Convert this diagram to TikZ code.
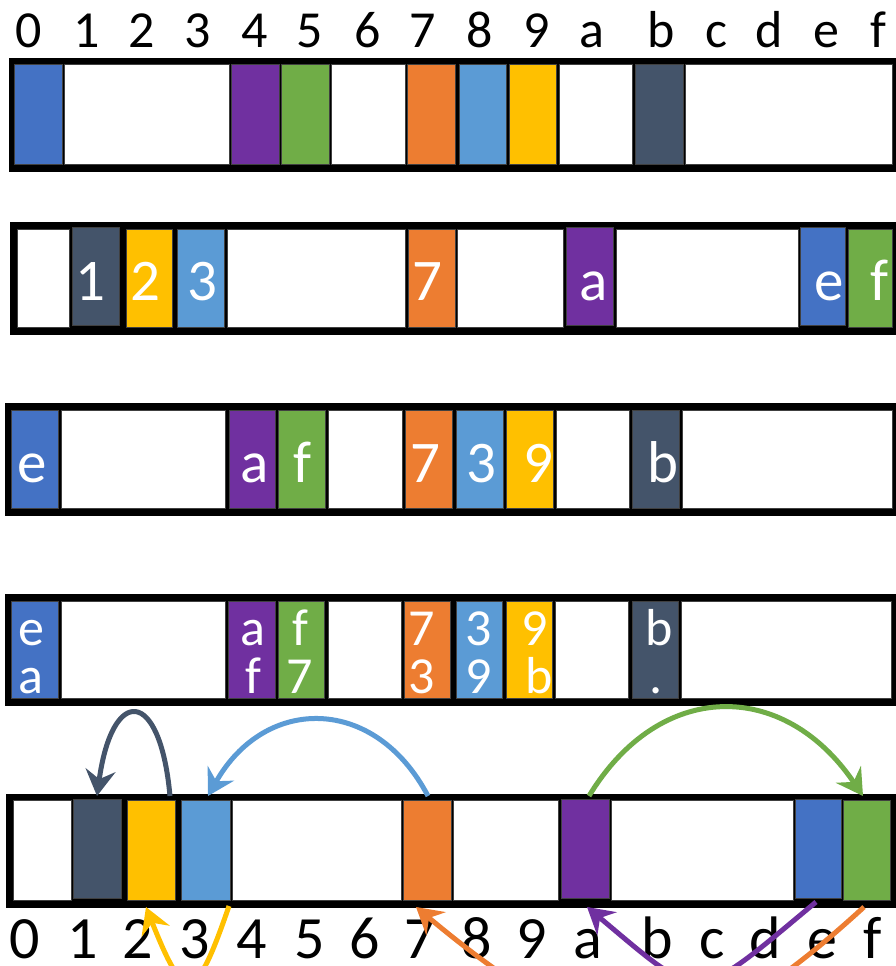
\documentclass[tikz,border=0pt]{standalone}
\usepackage{fontspec}
\setmainfont{Carlito}
\usetikzlibrary{arrows.meta}
\definecolor{cblue}{HTML}{4472C4}
\definecolor{cpurple}{HTML}{7030A0}
\definecolor{cgreen}{HTML}{70AD47}
\definecolor{corange}{HTML}{ED7D31}
\definecolor{clblue}{HTML}{5B9BD5}
\definecolor{cyellow}{HTML}{FFC000}
\definecolor{cslate}{HTML}{44546A}
\newcommand\mkcell[6]{\node[cellst, fill=#6, minimum width={(#3-#2)*1pt}, minimum height={(#5-#4)*1pt}] (#1) at ({(#2+#3)/2},{(#4+#5)/2}) {};}
\begin{document}
\begin{tikzpicture}[x=1pt,y=-1pt,
 frame/.style={draw=black, fill=black, line width=7pt},
 cellst/.style={draw=black!75, line width=1pt, inner sep=0pt, outer sep=0pt, rectangle},
 lbl/.style={anchor=base, inner sep=0pt, font=\fontsize{52}{52}\selectfont},
 blbl/.style={anchor=base, inner sep=0pt, text depth=0pt, font=\fontsize{60}{60}\selectfont},
 ctxt/.style={anchor=base, inner sep=0pt, text=white, font=\fontsize{59}{59}\selectfont},
 ctxtsm/.style={anchor=base, inner sep=0pt, text=white, font=\fontsize{52}{52}\selectfont},
 link/.style={line width=5pt, -{Stealth[length=26pt,width=30pt,inset=9pt]}},
]
\useasboundingbox (0,0) rectangle (896,966);
\clip (0,0) rectangle (896,966);

% top index labels
\foreach \t/\x [count=\i] in {0/29,1/87,2/142,3/198,4/255,5/310,6/368,7/423,8/480,9/537,a/592,b/661,c/716,d/769,e/826,f/878}
  \node[lbl] (top\i) at (\x,48) {\t};

% frames
\draw[frame] (12,61.5) rectangle (896,168);
\draw[frame] (13,225.5) rectangle (896,331);
\draw[frame] (8.5,406) rectangle (896,512);
\draw[frame] (8,597) rectangle (896,702);
\draw[frame] (9,797.5) rectangle (895,904);

% row 1
\mkcell{a0}{14}{62}{65}{164}{cblue}
\mkcell{a1}{64}{229}{65}{164}{white}
\mkcell{a4}{231}{279}{65}{164}{cpurple}
\mkcell{a5}{281}{329}{65}{164}{cgreen}
\mkcell{a6}{331}{405}{65}{164}{white}
\mkcell{a7}{407}{455}{65}{164}{corange}
\mkcell{a8}{459}{506}{65}{164}{clblue}
\mkcell{a9}{509}{556}{65}{164}{cyellow}
\mkcell{aa}{559}{632}{65}{164}{white}
\mkcell{ab}{635}{683}{65}{164}{cslate}
\mkcell{ac}{685}{892}{65}{164}{white}

% row 2
\mkcell{b0}{17}{69}{229}{327}{white}
\mkcell{b1}{72}{119}{227}{325}{cslate}
\mkcell{b2}{126}{172}{229}{327}{cyellow}
\mkcell{b3}{177}{224}{229}{327}{clblue}
\mkcell{b4}{227}{405}{229}{327}{white}
\mkcell{b7}{408}{455}{229}{327}{corange}
\mkcell{b8}{457}{563}{229}{327}{white}
\mkcell{ba}{566}{613}{227}{325}{cpurple}
\mkcell{bb}{616}{798}{229}{327}{white}
\mkcell{be}{800}{845}{227}{325}{cblue}
\mkcell{bf}{848}{892}{229}{327}{cgreen}
\foreach \t/\x in {1/90,2/145,3/202,7/427,a/594,e/829,f/879}
  \node[ctxt] (bt\t) at (\x,300) {\t};

% row 3
\mkcell{c0}{11}{58}{410}{508}{cblue}
\mkcell{c1}{61}{225}{410}{508}{white}
\mkcell{c4}{229}{275}{410}{508}{cpurple}
\mkcell{c5}{278}{325}{410}{508}{cgreen}
\mkcell{c6}{328}{402}{410}{508}{white}
\mkcell{c7}{405}{452}{410}{508}{corange}
\mkcell{c8}{456}{503}{410}{508}{clblue}
\mkcell{c9}{506}{553}{410}{508}{cyellow}
\mkcell{ca}{556}{629}{410}{508}{white}
\mkcell{cb}{632}{679}{410}{508}{cslate}
\mkcell{cc}{682}{892}{410}{508}{white}
\foreach \t/\x [count=\i] in {e/32,a/255,f/302,7/425,3/481,9/538,b/663}
  \node[ctxt] (ct\i) at (\x,482) {\t};

% row 4
\mkcell{d0}{11}{58}{601}{698}{cblue}
\mkcell{d1}{61}{225}{601}{698}{white}
\mkcell{d4}{228}{275}{601}{698}{cpurple}
\mkcell{d5}{278}{324}{601}{698}{cgreen}
\mkcell{d6}{328}{401}{601}{698}{white}
\mkcell{d7}{404}{450}{601}{698}{corange}
\mkcell{d8}{456}{502}{601}{698}{clblue}
\mkcell{d9}{506}{552}{601}{698}{cyellow}
\mkcell{da}{555}{628}{601}{698}{white}
\mkcell{db}{632}{678}{601}{698}{cslate}
\mkcell{dc}{681}{891}{601}{698}{white}
\foreach \t/\x [count=\i] in {e/31,a/253,f/300,7/422,3/479,9/535,b/659}
  \node[ctxtsm] (dt\i) at (\x,645) {\t};
\foreach \t/\x [count=\i] in {a/31,f/253,7/300,3/422,9/479,b/539,./656}
  \node[ctxtsm] (du\i) at (\x,693) {\t};

% row 5
\mkcell{e0}{13}{71}{800}{900}{white}
\mkcell{e1}{73}{121}{799}{898}{cslate}
\mkcell{e2}{127}{175}{800}{900}{cyellow}
\mkcell{e3}{181}{230}{800}{900}{clblue}
\mkcell{e4}{232}{401}{800}{900}{white}
\mkcell{e7}{403}{451}{800}{900}{corange}
\mkcell{e8}{453}{558}{800}{900}{white}
\mkcell{ea}{561}{609}{799}{898}{cpurple}
\mkcell{eb}{611}{793}{800}{900}{white}
\mkcell{ee}{795}{841}{799}{898}{cblue}
\mkcell{ef}{843}{890}{800}{900}{cgreen}

% bottom index labels
\foreach \t/\x [count=\i] in {0/25,1/83,2/138,3/195,4/252,5/310,6/365,7/420,8/477,9/532,a/588,b/657,c/712,d/765,e/822,f/873}
  \node[blbl] (bot\i) at (\x,958) {\t};

% connector ends
\coordinate (slS) at (170,796);  \coordinate (slE) at (97,796);
\coordinate (lbS) at (428,796);  \coordinate (lbE) at (208,796);
\coordinate (grS) at (589,796);  \coordinate (grE) at (863,796);
\coordinate (yeS) at (229,906);  \coordinate (yeE) at (146,907);
\coordinate (orS) at (864,907);  \coordinate (orE) at (416,907);
\coordinate (puS) at (816,902);  \coordinate (puE) at (587,907);

\draw[link, cslate] (slS) .. controls (160,686) and (112,686) .. (slE);
\draw[link, clblue] (lbS) .. controls (375,695) and (265,695) .. (lbE);
\draw[link, cgreen] (grS) .. controls (660,679) and (784,679) .. (grE);
\draw[link, cyellow] (yeS) .. controls (195,1005) and (185,1005) .. (yeE);
\draw[link, corange] (orS) .. controls (688,1068) and (609,1068) .. (orE);
\draw[link, cpurple] (puS) .. controls (692,1005) and (704,1005) .. (puE);
\end{tikzpicture}
\end{document}
